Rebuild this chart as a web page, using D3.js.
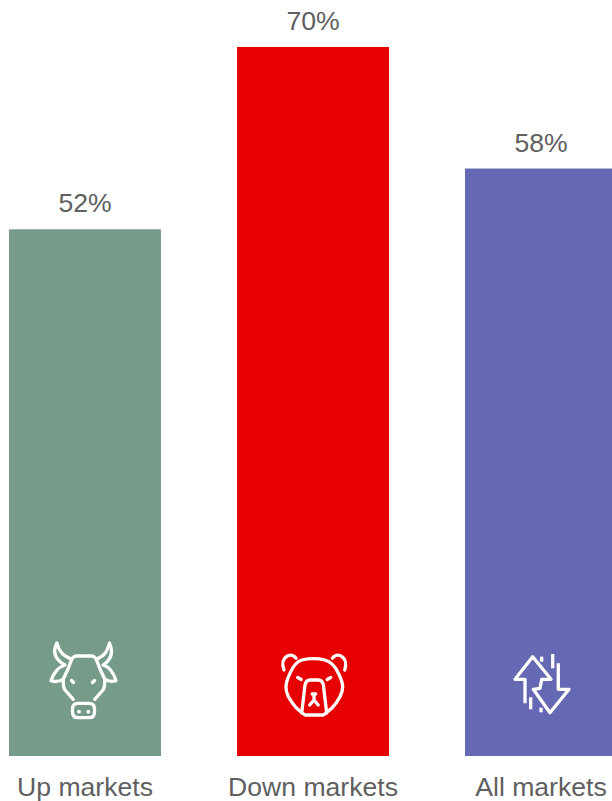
<!DOCTYPE html>
<html>
<head>
<meta charset="utf-8">
<script src="https://cdn.jsdelivr.net/npm/d3@7/dist/d3.min.js"></script>
<style>
html,body{margin:0;padding:0;background:#fff;overflow:hidden}
svg{display:block}
text{font-family:"Liberation Sans",Arial,sans-serif;fill:#5f5f5f}
</style>
</head>
<body>
<svg id="chart" width="612" height="801"></svg>
<script>
const categories = ["Up markets", "Down markets", "All markets"];
const values = [52, 70, 58];
const barColors = ["#769b88", "#e60000", "#6569b3"];

// Line icons, each drawn around the middle of its bar.
const bullIcon = [
  "M-26.3 -40.7C-30 -33 -29 -25 -18 -19C-25 -17 -30 -10 -32 -3.3C-28 -2 -23 -2.5 -19.7 -5",
  "M-26 -40.7C-24 -33 -21 -29 -11.3 -24.7L-15 -15L-19.7 -5C-20 0 -20 3 -18 6L-9.7 15.3",
  "M-11.3 -24.7C-10 -26.5 -9 -28 -7 -28H9C11 -28 12 -26.5 13.3 -24.7",
  "M26.6 -40.7C30 -33 29 -25 20 -19C27 -17 31 -10 33 -3.3C29 -2 25 -2.5 21.7 -5",
  "M26.4 -40.7C24 -33 23 -29 13.3 -24.7L17 -15L21.7 -5C22 0 22 3 20 6L11.7 15.3",
  "M-5 19.3H6Q11.5 19.3 11.5 25V28Q11.5 33.7 6 33.7H-5Q-10.5 33.7 -10.5 28V25Q-10.5 19.3 -5 19.3Z",
  "M-11.5 -3.5L-9.5 -1.5",
  "M11.5 -3.5L9.5 -1.5"
];
const bullDots = [[-4, 27.7, 1.9], [5.3, 27.7, 1.9]];

const bearIcon = [
  "M-29.7 -16C-32 -22 -31 -28 -25.3 -30.5C-22 -31.5 -19.5 -30 -17.7 -27.7",
  "M31 -16C33 -22 32 -28 26.3 -30.5C23 -31.5 20.5 -30 18.7 -27.7",
  "M-12 -26C-3 -28 3 -28 11.3 -26C18 -24 22 -19 24.7 -12.7C27 -8 29 -3 29 0.7C29 5 28 7 26.3 10.7C24 15 21 19 18 22.3C15 25 12.5 27 9.7 29H-8.7C-11.5 27 -14 25 -17 22.3C-20 19 -23 15 -25.3 10.7C-27 7 -28 5 -27.7 0.7C-27.5 -3 -26 -8 -23.7 -12.7C-21 -19 -18 -24 -12 -26Z",
  "M-12 27L-8.7 -1C-8 -4 -6 -6 -3.7 -6H4.7C7 -6 9 -4 9.7 -1L13 27",
  "M-1.5 8H2",
  "M0.3 10V14L-4 19M0.3 14L4.5 19",
  "M-16 -8.5L-12.5 -6.5",
  "M17 -8.5L13.5 -6.5"
];

const arrowsIcon = [
  "M-16 18.3V-5.7H-26L-8.3 -28.3L10 -5.7H0.7L-1 3.3L-7.7 4.3L9 27.7L28 4.3H17.3V-21.7",
  "M11.7 -31V-16.7",
  "M-10.3 12.3V24.3",
  "M0.7 -28.3V-23.3",
  "M0 22.7V27.3"
];

const margin = {bottom: 45};
const height = 801;
const svg = d3.select("#chart");

const x = d3.scaleBand()
  .domain(categories)
  .range([-29, 655])
  .paddingInner(76 / 228)
  .paddingOuter(38 / 228);

const y = d3.scaleLinear()
  .domain([0, 70])
  .range([height - margin.bottom, 47]);

const data = categories.map((c, i) => ({name: c, value: values[i], color: barColors[i]}));

svg.selectAll("rect.bar").data(data).join("rect")
  .attr("class", "bar")
  .attr("x", d => x(d.name))
  .attr("y", d => y(d.value))
  .attr("width", x.bandwidth())
  .attr("height", d => y(0) - y(d.value))
  .attr("fill", d => d.color);

svg.selectAll("text.value").data(data).join("text")
  .attr("class", "value")
  .attr("x", d => x(d.name) + x.bandwidth() / 2)
  .attr("y", d => y(d.value) - 17)
  .attr("text-anchor", "middle")
  .attr("font-size", 26.6)
  .text(d => d.value + "%");

svg.selectAll("text.cat").data(data).join("text")
  .attr("class", "cat")
  .attr("x", d => x(d.name) + x.bandwidth() / 2)
  .attr("y", 796)
  .attr("text-anchor", "middle")
  .attr("font-size", 26.6)
  .text(d => d.name);

function drawIcon(name, dx, cy, paths, cap) {
  const g = svg.append("g")
    .attr("transform", `translate(${x(name) + x.bandwidth() / 2 + dx},${cy})`)
    .attr("fill", "none")
    .attr("stroke", "#fff")
    .attr("stroke-width", 3.3)
    .attr("stroke-linecap", cap)
    .attr("stroke-linejoin", "round");
  g.selectAll("path").data(paths).join("path").attr("d", d => d);
  return g;
}

const bull = drawIcon(categories[0], -2, 684, bullIcon, "round");
bull.selectAll("circle").data(bullDots).join("circle")
  .attr("cx", d => d[0]).attr("cy", d => d[1]).attr("r", d => d[2])
  .attr("fill", "#fff").attr("stroke", "none");

drawIcon(categories[1], 0.7, 686, bearIcon, "round");
drawIcon(categories[2], 0, 685, arrowsIcon, "butt");
</script>
</body>
</html>
